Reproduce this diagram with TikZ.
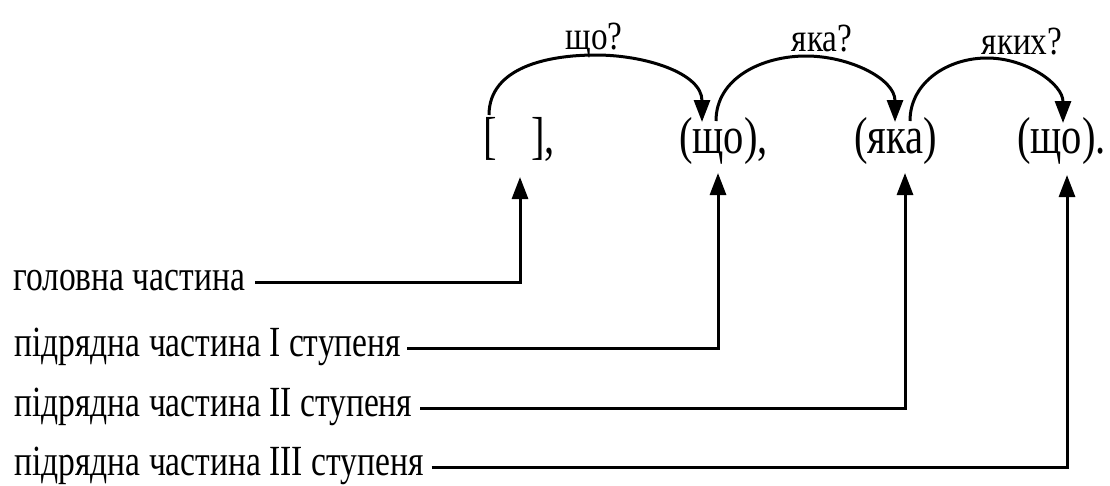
\documentclass[tikz,border=0pt]{standalone}
\usepackage{fontspec}
\setmainfont{Liberation Serif}
\usetikzlibrary{arrows.meta}
\begin{document}
\begin{tikzpicture}[x=1pt,y=-1pt,
  conn/.style={line width=3pt},
  tipped/.style={-{Triangle[length=22pt,width=16pt]}},
  word/.style={inner sep=0pt,anchor=base west,font=\fontsize{52}{56}\selectfont},
  qlab/.style={inner sep=0pt,anchor=base,font=\fontsize{40}{44}\selectfont},
  side/.style={inner sep=0pt,anchor=base west,text height=16pt,text depth=0pt,font=\fontsize{43}{47}\selectfont}]
\useasboundingbox (0,0) rectangle (1110,485);
% main row
\node[word] (w1) at (483,153) {\scalebox{0.78}[1]{[\hspace{44pt}],}};
\node[word] (w2) at (679,153) {\scalebox{0.78}[1]{(що),}};
\node[word] (w3) at (854,153) {\scalebox{0.78}[1]{(яка)}};
\node[word] (w4) at (1017,153) {\scalebox{0.78}[1]{(що).}};
% question labels
\node[qlab] (q1) at (594,49) {\scalebox{0.83}[1]{що?}};
\node[qlab] (q2) at (822,51) {\scalebox{0.83}[1]{яка?}};
\node[qlab] (q3) at (1022,54) {\scalebox{0.83}[1]{яких?}};
% arc points
\coordinate (a1s) at (489,115);
\coordinate (a1t) at (596,55);
\coordinate (a1e) at (702,122);
\coordinate (a2s) at (716,121);
\coordinate (a2t) at (806,56);
\coordinate (a2e) at (895,122);
\coordinate (a3s) at (910,121);
\coordinate (a3t) at (987,58);
\coordinate (a3e) at (1063,123);
\draw[conn,tipped] (a1s) to[out=90,in=180] (a1t) to[out=0,in=90] (a1e);
\draw[conn,tipped] (a2s) to[out=90,in=180] (a2t) to[out=0,in=90] (a2e);
\draw[conn,tipped] (a3s) to[out=90,in=180] (a3t) to[out=0,in=90] (a3e);
% side labels
\node[side] (s1) at (13,290) {\scalebox{0.78}[1]{головна частина}};
\node[side] (s2) at (14,356) {\scalebox{0.78}[1]{підрядна частина I ступеня}};
\node[side] (s3) at (14,416) {\scalebox{0.78}[1]{підрядна частина II ступеня}};
\node[side] (s4) at (14,475) {\scalebox{0.78}[1]{підрядна частина III ступеня}};
% up arrow tips
\coordinate (u1) at (520,177);
\coordinate (u2) at (718,173);
\coordinate (u3) at (905,173);
\coordinate (u4) at (1067,175);
\draw[conn,tipped] ([xshift=10pt]s1.east) -| (u1);
\draw[conn,tipped] ([xshift=6pt]s2.east) -| (u2);
\draw[conn,tipped] ([xshift=8pt]s3.east) -| (u3);
\draw[conn,tipped] ([xshift=8pt]s4.east) -| (u4);
\end{tikzpicture}
\end{document}
